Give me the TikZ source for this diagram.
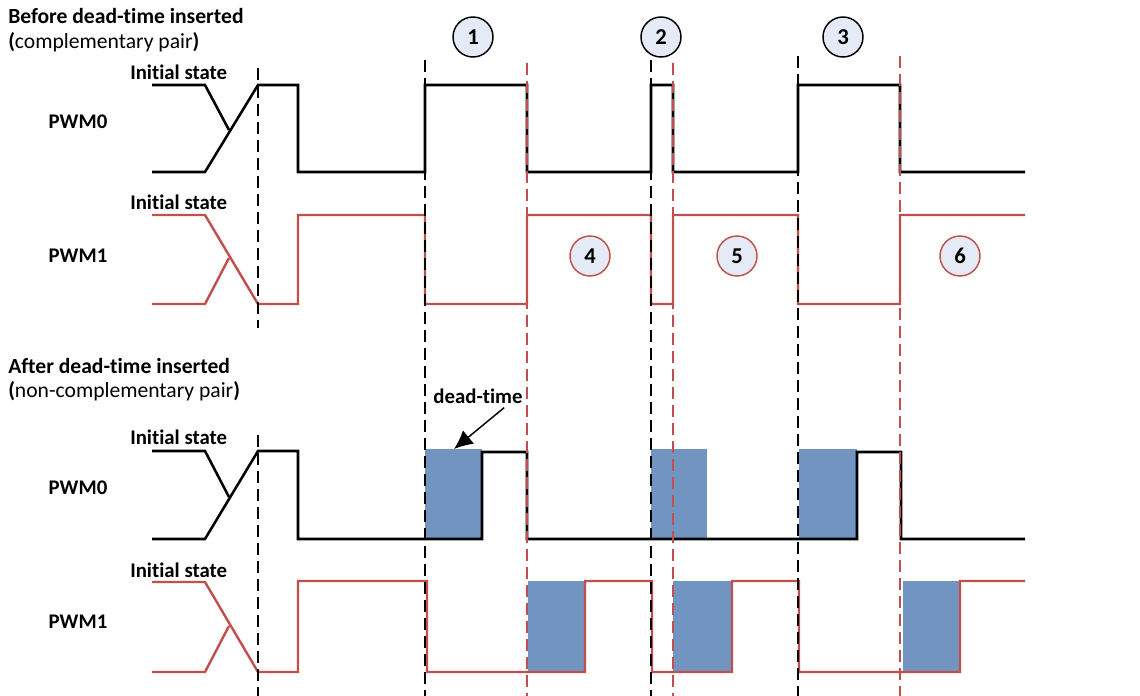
\documentclass[tikz,border=0pt]{standalone}
\usepackage{fontspec}
\setmainfont[Ligatures=NoCommon]{Carlito}
\usetikzlibrary{arrows.meta}
\definecolor{WaveRed}{RGB}{192,80,77}
\definecolor{DeadBlue}{RGB}{114,148,192}
\definecolor{BadgeFill}{RGB}{228,235,246}

\begin{document}
\begin{tikzpicture}[x=0.75pt,y=-0.75pt,>=Latex,
    txt/.style={inner sep=0pt,font=\fontsize{16.2}{19}\selectfont},
    head/.style={inner sep=0pt,font=\bfseries\fontsize{16.2}{19}\selectfont},
    lab/.style={inner sep=0pt,font=\bfseries\fontsize{15.6}{18}\selectfont},
    wblack/.style={line width=1.9pt},
    wred/.style={line width=1.8pt,WaveRed},
    vblack/.style={line width=1pt,dash pattern=on 9pt off 4.5pt},
    vred/.style={vblack,WaveRed},
    deadbox/.style={fill=DeadBlue},
    badge/.style={circle,draw,line width=1.1pt,fill=BadgeFill,minimum size=30pt,
      inner sep=0pt,font=\bfseries\fontsize{17}{19}\selectfont},
    rbadge/.style={badge,draw=WaveRed}]
  \useasboundingbox (0,0) rectangle (1140,696);
  \fill[white] (0,0) rectangle (1140,696);

  % titles and labels
  \node[head,anchor=west] (before) at (8,16) {Before dead-time inserted};
  \node[txt,anchor=west] (compl) at (8,42) {\textbf{(}complementary pair\textbf{)}};
  \node[head,anchor=west] (after) at (8,366) {After dead-time inserted};
  \node[txt,anchor=west] (noncompl) at (8,391) {\textbf{(}non-complementary pair\textbf{)}};
  \node[lab,anchor=west] (initA) at (130,72) {Initial state};
  \node[lab] (pwmA) at (78,122) {PWM0};
  \node[lab,anchor=west] (initB) at (130,202) {Initial state};
  \node[lab] (pwmB) at (78,256) {PWM1};
  \node[lab,anchor=west] (initC) at (130,437) {Initial state};
  \node[lab] (pwmC) at (78,488) {PWM0};
  \node[lab,anchor=west] (initD) at (130,570) {Initial state};
  \node[lab] (pwmD) at (78,622) {PWM1};

  % dead-time boxes
  \fill[deadbox] (425,449) rectangle (482,539);
  \fill[deadbox] (651,449) rectangle (707,539);
  \fill[deadbox] (799,449) rectangle (857,539);
  \fill[deadbox] (528,581) rectangle (585,672);
  \fill[deadbox] (673,581) rectangle (731,672);
  \fill[deadbox] (903,581) rectangle (960,672);

  % before dead-time
  \draw[wblack] (152,85) -- (205,85) -- (229,130);
  \draw[wblack] (152,172) -- (205,172) -- (258,85) -- (298,85) -- (298,172) -- (425,172)
    -- (425,85) -- (527,85) -- (527,172) -- (651,172) -- (651,85) -- (673,85) -- (673,172)
    -- (798,172) -- (798,85) -- (900,85) -- (900,172) -- (1025,172);
  \draw[wred] (152,304) -- (205,304) -- (229,258);
  \draw[wred] (152,215) -- (205,215) -- (258,304) -- (298,304) -- (298,215) -- (425,215)
    -- (425,304) -- (527,304) -- (527,215) -- (651,215) -- (651,304) -- (673,304) -- (673,215)
    -- (798,215) -- (798,304) -- (900,304) -- (900,215) -- (1025,215);

  % after dead-time
  \draw[wblack] (152,451) -- (205,451) -- (229,497);
  \draw[wblack] (152,539) -- (205,539) -- (258,451) -- (298,451) -- (298,539) -- (482,539)
    -- (482,452) -- (527,452) -- (527,539) -- (857,539) -- (857,452) -- (901,452)
    -- (901,539) -- (1025,539);
  \draw[wred] (152,672) -- (205,672) -- (229,626);
  \draw[wred] (152,582) -- (205,582) -- (258,672) -- (298,672) -- (298,581) -- (427,581)
    -- (427,672) -- (585,672) -- (585,581) -- (652,581) -- (652,672) -- (732,672)
    -- (732,581) -- (799,581) -- (799,672) -- (960,672) -- (960,581) -- (1025,581);

  % event lines
  \draw[vblack] (258,68) -- (258,328);
  \draw[vblack] (258,435) -- (258,696);
  \draw[vblack] (425,60) -- (425,696);
  \draw[vblack] (651,60) -- (651,696);
  \draw[vblack] (798,56) -- (798,696);
  \draw[vred] (527,63) -- (527,696);
  \draw[vred] (673,63) -- (673,696);
  \draw[vred] (900,56) -- (900,696);

  % numbered events
  \node[badge] (one) at (473,37) {1};
  \node[badge] (two) at (661,37) {2};
  \node[badge] (three) at (843,37) {3};
  \node[rbadge] (four) at (590,256) {4};
  \node[rbadge] (five) at (737,256) {5};
  \node[rbadge] (six) at (960,256) {6};

  \node[lab] (dead) at (478,396) {dead-time};
  \coordinate (deadtip) at (454,449);
  \draw[-{Latex[length=14pt,width=13pt]},line width=1.1pt]
    ([xshift=-14pt,yshift=-3pt]dead.south east) -- (deadtip);
\end{tikzpicture}
\end{document}
